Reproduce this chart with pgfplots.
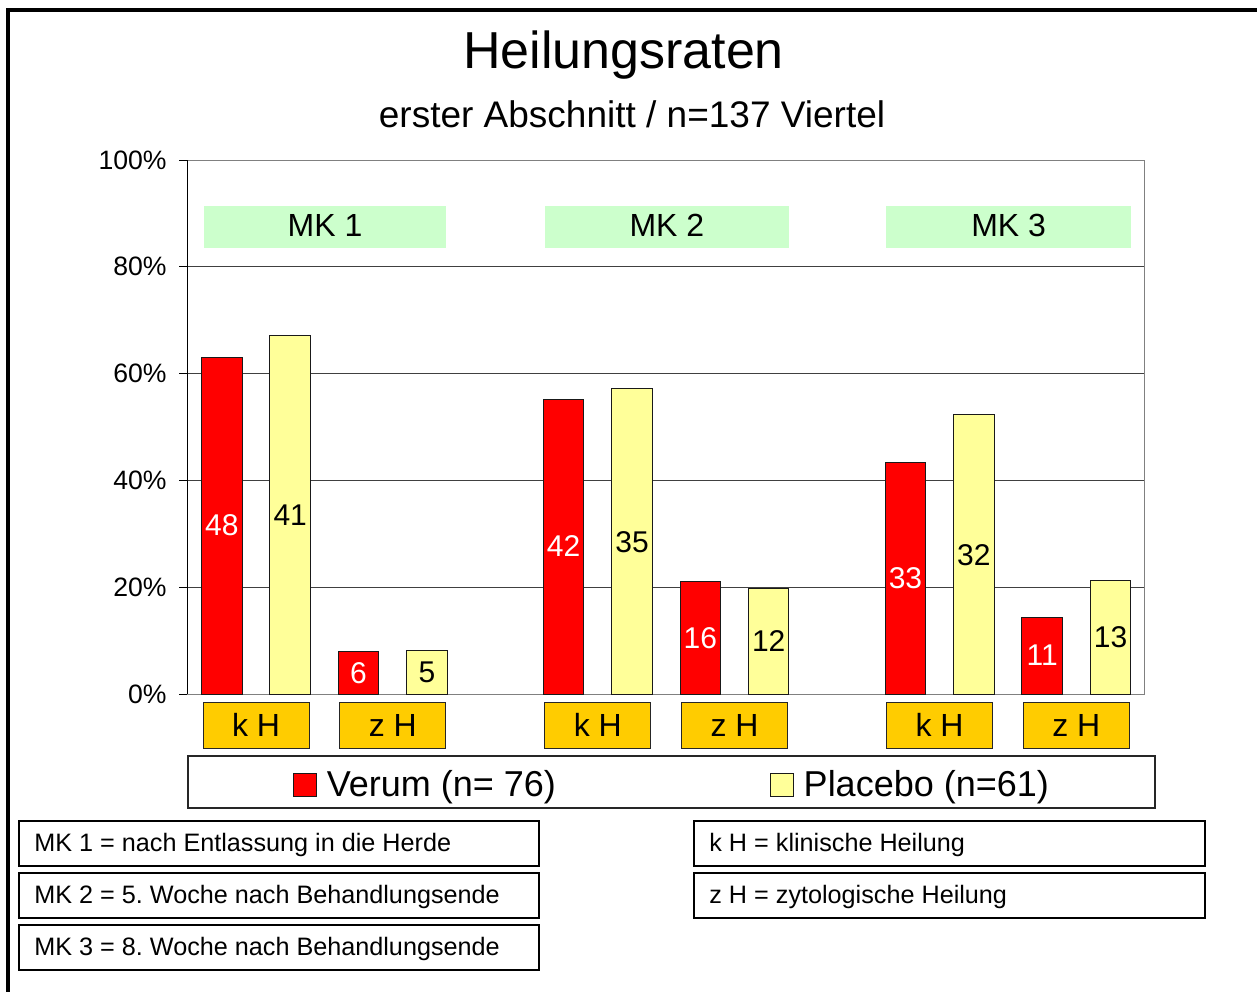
\documentclass[border=0pt]{standalone}
\usepackage{fontspec}
\setmainfont{Liberation Sans}
\usepackage{pgfplots}
\pgfplotsset{compat=1.18}
\definecolor{verum}{HTML}{FF0000}
\definecolor{placebo}{HTML}{FFFF99}
\definecolor{mkgreen}{HTML}{CCFFCC}
\definecolor{khorange}{HTML}{FFCC00}
\newcommand\fs[1]{\fontsize{#1}{#1}\selectfont}
\frenchspacing

\begin{document}
\begin{tikzpicture}
% pixel grid of the reference: 1px = 0.5pt, y downwards
\begin{scope}[x=0.5pt,y=-0.5pt]
\useasboundingbox (0,0) rectangle (1257,992);
\draw[line width=2pt, line join=miter] (1257,9.7) -- (8,9.7) -- (8,992);
\node[anchor=base, font=\fs{26}] at (623.5,68) {Heilungsraten};
\node[anchor=base, font=\fs{18.5}] at (632,127) {erster Abschnitt / n=137 Viertel};
% legend frame
\draw[black!85, line width=0.7pt] (188,756) rectangle (1155,808);
% explanation boxes
\foreach \yt/\txt in {821/{MK 1 = nach Entlassung in die Herde},
                      873/{MK 2 = 5. Woche nach Behandlungsende},
                      925/{MK 3 = 8. Woche nach Behandlungsende}} {
  \draw[line width=1pt] (19,\yt) rectangle (539,\yt+45);
  \node[anchor=base west, inner sep=0pt, font=\fs{12.6}] at (34,\yt+30) {\txt};
}
\foreach \yt/\txt in {821/{k H = klinische Heilung},
                      873/{z H = zytologische Heilung}} {
  \draw[line width=1pt] (694,\yt) rectangle (1205,\yt+45);
  \node[anchor=base west, inner sep=0pt, font=\fs{12.6}] at (709,\yt+30) {\txt};
}
\end{scope}

\begin{axis}[
    at={(93.5pt,-347pt)}, anchor=south west,
    scale only axis, width=478.5pt, height=267pt,
    xmin=-0.51, xmax=13.49, ymin=0, ymax=100,
    axis line style={black!50, line width=0.5pt},
    ytick={0,20,...,100},
    yticklabel={\pgfmathprintnumber{\tick}\%},
    ytick pos=left, tick align=outside, major tick length=4pt,
    ytick style={black, line width=0.5pt},
    ymajorgrids, grid style={black!75, line width=0.5pt},
    /pgf/number format/assume math mode=true,
    yticklabel style={font=\fs{13.3}, anchor=east, inner sep=0pt, xshift=-6pt},
    xtick={0.5,2.5,5.5,7.5,10.5,12.5},
    xticklabels={k H, z H, k H, z H, k H, z H},
    xtick style={draw=none},
    xticklabel style={font=\fs{16}, anchor=north, fill=khorange, draw=black!85,
        line width=0.5pt, minimum width=53pt, minimum height=22.8pt,
        inner sep=0pt, yshift=0pt},
    legend style={at={(0.5078,-0.1704)}, anchor=center, draw=none, fill=none,
        font=\fs{18}, inner sep=0pt,
        /tikz/every odd column/.append style={column sep=3pt},
        /tikz/every even column/.append style={column sep=105pt}},
    legend columns=2,
    legend image code/.code={\draw[#1] (0pt,-5.6pt) rectangle (11.4pt,5.6pt);},
]
\addplot[ybar, bar width=0.593, bar shift=0pt, fill=verum, draw=black!90, line width=0.5pt]
    coordinates {(0,63.05) (2,7.9) (5,55.1) (7,21.0) (10,43.3) (12,14.4)};
\addplot[ybar, bar width=0.593, bar shift=0pt, fill=placebo, draw=black!90, line width=0.5pt]
    coordinates {(1,67.2) (3,8.1) (6,57.3) (8,19.7) (11,52.4) (13,21.3)};
\legend{Verum (n= 76), Placebo (n=61)}

% counts inside the bars
\addplot[forget plot, draw=none, mark=none, nodes near coords, point meta=explicit symbolic,
    every node near coord/.append style={anchor=center, text=white, font=\fs{15}}]
    coordinates {(0,31.6)[48] (2,3.9)[6] (5,27.7)[42] (7,10.5)[16] (10,21.7)[33] (12,7.3)[11]};
\addplot[forget plot, draw=none, mark=none, nodes near coords, point meta=explicit symbolic,
    every node near coord/.append style={anchor=center, text=black, font=\fs{15}}]
    coordinates {(1,33.5)[41] (3,4.1)[5] (6,28.5)[35] (8,9.9)[12] (11,26.0)[32] (13,10.7)[13]};

% group headers
\fill[mkgreen] (axis cs:-0.26,83.5) rectangle (axis cs:3.28,91.4);
\fill[mkgreen] (axis cs:4.72,83.5) rectangle (axis cs:8.30,91.4);
\fill[mkgreen] (axis cs:9.72,83.5) rectangle (axis cs:13.30,91.4);
\node[font=\fs{16}] at (axis cs:1.51,87.75) {MK 1};
\node[font=\fs{16}] at (axis cs:6.51,87.75) {MK 2};
\node[font=\fs{16}] at (axis cs:11.51,87.75) {MK 3};
\draw[black, line width=0.5pt] (rel axis cs:0,0) -- (rel axis cs:0,1);
\end{axis}
\end{tikzpicture}
\end{document}
